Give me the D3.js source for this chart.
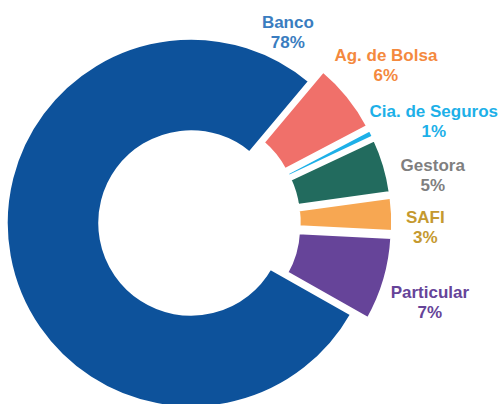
<!DOCTYPE html>
<html>
<head>
<meta charset="utf-8">
<script src="https://cdn.jsdelivr.net/npm/d3@7"></script>
<style>
  body { margin: 0; background: #fff; }
  svg { display: block; }
  text { font-family: "Liberation Sans", Arial, sans-serif; font-weight: bold; font-size: 17px; }
</style>
</head>
<body>
<div id="chart"></div>
<script>
// slices in drawing order, clockwise from the top-right
const categories = ["Ag. de Bolsa", "Cia. de Seguros", "Gestora", "SAFI", "Particular", "Banco"];
const shares = [6.2, 0.7, 4.8, 3.0, 7.4, 77.9];
const pctLabels = ["6%", "1%", "5%", "3%", "7%", "78%"];
const sliceColors = ["#f0706a", "#1db0e8", "#226b5e", "#f7a752", "#664499", "#0d529b"];
const labelColors = ["#f4893e", "#1db0e8", "#7f7f7f", "#c5992f", "#664499", "#3a7dc0"];
// direction (degrees clockwise from top) where each label block sits
const labelAngles = [47, 64, 78, 91, 110, 26];

const width = 500, height = 404;
const cx = 191, cy = 223;
const outerR = 185, innerR = 91;
const rad = deg => deg * Math.PI / 180;

const data = categories.map((c, i) => ({
    name: c, value: shares[i], pct: pctLabels[i],
    color: sliceColors[i], labelColor: labelColors[i], labelAngle: labelAngles[i]
}));

const svg = d3.select("#chart").append("svg")
    .attr("width", width)
    .attr("height", height);

const g = svg.append("g").attr("transform", `translate(${cx},${cy})`);

const pie = d3.pie()
    .sort(null)
    .value(d => d.value)
    .startAngle(rad(40))
    .endAngle(rad(400));

const arc = d3.arc().innerRadius(innerR).outerRadius(outerR);

// every slice but Banco is pulled out
const explode = d => d.data.name === "Banco" ? 0 : 17;
const mid = d => (d.startAngle + d.endAngle) / 2;

const arcs = pie(data);

g.selectAll("path.slice")
    .data(arcs)
    .enter().append("path")
    .attr("class", "slice")
    .attr("d", arc)
    .attr("transform", d => {
        let a = mid(d), e = explode(d);
        return `translate(${e * Math.sin(a)},${-e * Math.cos(a)})`;
    })
    .style("fill", d => d.data.color)
    .style("stroke", "#fff")
    .style("stroke-width", 3.5)
    .style("stroke-linejoin", "miter");

// labels: two lines, pushed outward past the slice edge
const labels = g.selectAll("g.label")
    .data(arcs)
    .enter().append("g")
    .attr("class", "label");

labels.append("text")
    .attr("text-anchor", "middle")
    .attr("y", -4)
    .style("fill", d => d.data.labelColor)
    .text(d => d.data.name);

labels.append("text")
    .attr("text-anchor", "middle")
    .attr("y", 16)
    .style("fill", d => d.data.labelColor)
    .text(d => d.data.pct);

labels.attr("transform", function(d) {
    let a = rad(d.data.labelAngle);
    let r = outerR + explode(d) + (d.data.name === "Banco" ? 10 : 13);
    let ux = Math.sin(a), uy = -Math.cos(a);
    let w = d3.max(d3.select(this).selectAll("text").nodes(), n => n.getComputedTextLength());
    let x = r * ux + (w / 2) * ux;
    let y = r * uy + 17 * uy;
    // keep the block inside the picture
    x = Math.min(x, width - cx - w / 2 - 2);
    return `translate(${x},${y})`;
});
</script>
</body>
</html>
